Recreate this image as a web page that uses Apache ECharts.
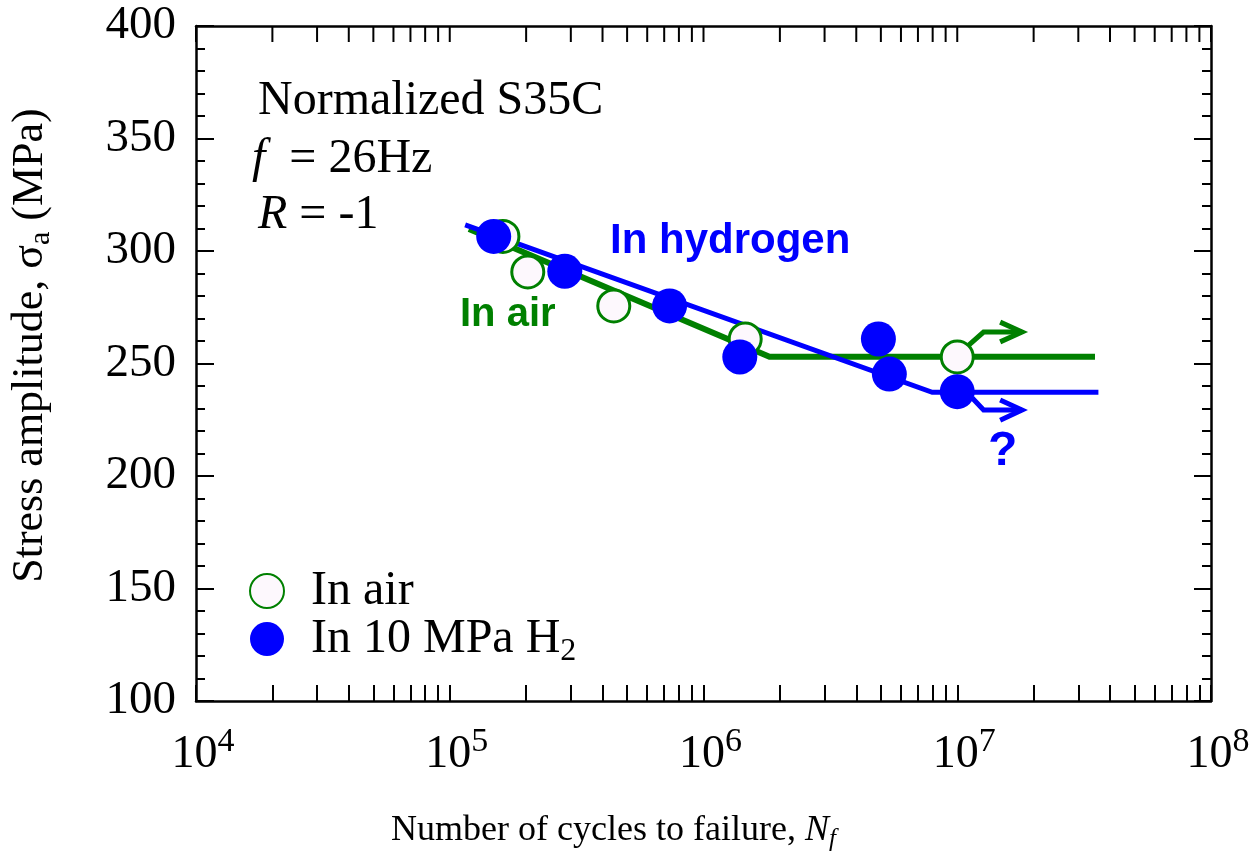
<!DOCTYPE html>
<html>
<head>
<meta charset="utf-8">
<script src="https://cdn.jsdelivr.net/npm/echarts@6/dist/echarts.min.js"></script>
<style>
html, body { margin: 0; padding: 0; background: #fff; }
#main { width: 1258px; height: 861px; }
</style>
</head>
<body>
<div id="main"></div>
<script>
// S-N data
const airCycles = [1.62e5, 2.03e5, 4.43e5, 1.46e6, 1.0e7];
const airStress = [306.5, 290.7, 275.6, 260.9, 252.9];
const h2Cycles = [1.49e5, 2.84e5, 7.35e5, 1.39e6, 4.89e6, 5.4e6, 1.0e7];
const h2Stress = [306.5, 291, 275.6, 252.9, 260.9, 245.3, 237.5];

// fitted S-N curves (knee + runout level)
const airFitCycles = [1.19e5, 1.82e6, 3.49e7];
const airFitStress = [309.8, 253, 253];
const h2FitCycles = [1.15e5, 7.97e6, 3.6e7];
const h2FitStress = [311.6, 237.2, 237.2];

// runout arrows
const airArrowCycles = [1.11e7, 1.27e7, 1.8e7];
const airArrowStress = [258.2, 264, 264];
const airHeadCycles = [1.476e7, 1.8e7, 1.476e7];
const airHeadStress = [268.4, 264, 259.6];
const h2ArrowCycles = [1.146e7, 1.27e7, 1.8e7];
const h2ArrowStress = [234.7, 229.3, 229.3];
const h2HeadCycles = [1.476e7, 1.8e7, 1.476e7];
const h2HeadStress = [233.8, 229.3, 224.8];

const green = '#008000';
const blue = '#0000ff';
const serif = "'Liberation Serif', 'Times New Roman', serif";
const sans = "'Liberation Sans', Arial, sans-serif";

const zip = (xs, ys) => xs.map((x, i) => [x, ys[i]]);

// log tick positions 1..9 x 10^n
let logTickValues = [];
for (let e = 4; e < 8; e++) {
	for (let k = 1; k < 10; k++) logTickValues.push(k * Math.pow(10, e));
}
logTickValues.push(1e8);
const logTicks = logTickValues.map((v) => Math.log10(v));

let chart = echarts.init(document.getElementById('main'));

const lineSeries = (data, color, width, z) => ({
	type: 'line',
	data: data,
	showSymbol: false,
	symbol: 'none',
	silent: true,
	z: z,
	lineStyle: { color: color, width: width, cap: 'butt', join: 'miter' }
});

let option = {
	backgroundColor: '#fff',
	animation: false,
	textStyle: { fontFamily: serif },
	grid: { left: 195, right: 47, top: 26, bottom: 160, containLabel: false },
	legend: {
		orient: 'vertical',
		left: 244,
		top: 562,
		itemWidth: 34,
		itemHeight: 34,
		itemGap: 0,
		data: ['In air', 'In 10 MPa H2'],
		formatter: (name) => name == 'In 10 MPa H2' ? 'In 10 MPa H{sub|2}' : name,
		textStyle: {
			fontFamily: serif,
			fontSize: 48,
			color: '#000',
			padding: [0, 0, 0, 22],
			rich: {
				sub: { fontFamily: serif, fontSize: 32, padding: [26, 0, 0, 0] }
			}
		}
	},
	xAxis: [{
		type: 'log',
		logBase: 10,
		min: 1e4,
		max: 1e8,
		position: 'bottom',
		axisLine: { show: true, onZero: false, lineStyle: { color: '#000', width: 2.5 } },
		axisTick: { show: false },
		splitLine: { show: false },
		minorTick: { show: false },
		axisLabel: {
			margin: 24,
			color: '#000',
			formatter: (v) => '10{sup|' + Math.round(Math.log10(v)) + '}',
			rich: {
				sup: { fontFamily: serif, fontSize: 34, padding: [0, 0, 26, 0] }
			},
			padding: [0, 0, 0, 14],
			fontSize: 46,
			fontFamily: serif
		},
		name: 'Number of cycles to failure, {it|N}{sub|f}',
		nameLocation: 'middle',
		nameGap: 108,
		nameTextStyle: {
			fontFamily: serif,
			fontSize: 36,
			color: '#000',
			padding: [0, 180, 0, 0],
			rich: {
				it: { fontFamily: serif, fontSize: 36, fontStyle: 'italic' },
				sub: { fontFamily: serif, fontSize: 25, fontStyle: 'italic', padding: [18, 0, 0, 0] }
			}
		}
	}, {
		// top frame line
		type: 'value',
		position: 'top',
		min: 4,
		max: 8,
		axisLine: { show: true, onZero: false, lineStyle: { color: '#000', width: 2.5 } },
		axisTick: { show: false },
		axisLabel: { show: false },
		splitLine: { show: false }
	}, {
		// bottom log ticks
		type: 'value',
		position: 'bottom',
		min: 4,
		max: 8,
		axisLine: { show: false },
		axisLabel: { show: false },
		splitLine: { show: false },
		axisTick: {
			show: true,
			inside: true,
			length: 16,
			customValues: logTicks,
			lineStyle: { color: '#000', width: 2 }
		}
	}],
	yAxis: [{
		type: 'value',
		min: 100,
		max: 400,
		interval: 50,
		position: 'left',
		axisLine: { show: true, onZero: false, lineStyle: { color: '#000', width: 2.5 } },
		axisTick: { show: true, inside: true, length: 18, lineStyle: { color: '#000', width: 2 } },
		minorTick: { show: true, splitNumber: 5, length: 9, lineStyle: { color: '#000', width: 2 } },
		splitLine: { show: false },
		axisLabel: { margin: 20, color: '#000', fontFamily: serif, fontSize: 47 },
		name: 'Stress amplitude, σ{sub|a} (MPa)',
		nameLocation: 'middle',
		nameGap: 140,
		nameTextStyle: {
			fontFamily: serif,
			fontSize: 44,
			color: '#000',
			padding: [0, 0, 0, 36],
			rich: {
				sub: { fontFamily: serif, fontSize: 30, padding: [22, 0, 0, 0] }
			}
		}
	}, {
		type: 'value',
		min: 100,
		max: 400,
		interval: 50,
		position: 'right',
		axisLine: { show: true, onZero: false, lineStyle: { color: '#000', width: 2.5 } },
		axisTick: { show: true, inside: true, length: 17, lineStyle: { color: '#000', width: 2 } },
		minorTick: { show: true, splitNumber: 5, length: 9, lineStyle: { color: '#000', width: 2 } },
		splitLine: { show: false },
		axisLabel: { show: false }
	}],
	graphic: [
		{
			type: 'text', left: 258, top: 77,
			style: { text: 'Normalized S35C', font: '48px ' + serif, fill: '#000' }
		},
		{
			type: 'text', left: 252, top: 135,
			style: {
				text: '{it|f}  = 26Hz', font: '48px ' + serif, fill: '#000',
				rich: { it: { fontStyle: 'italic', fontSize: 48, fontFamily: serif } }
			}
		},
		{
			type: 'text', left: 258, top: 191,
			style: {
				text: '{it|R} = -1', font: '48px ' + serif, fill: '#000',
				rich: { it: { fontStyle: 'italic', fontSize: 48, fontFamily: serif } }
			}
		},
		{
			type: 'text', left: 610, top: 220,
			style: { text: 'In hydrogen', font: 'bold 42px ' + sans, fill: blue }
		},
		{
			type: 'text', left: 460, top: 295,
			style: { text: 'In air', font: 'bold 40px ' + sans, fill: green }
		},
		{
			type: 'text', left: 988, top: 428,
			style: { text: '?', font: 'bold 48px ' + sans, fill: blue }
		}
	],
	series: [
		// top-edge log ticks, placed through the x scale at the top of the y range
		{
			type: 'custom',
			silent: true,
			clip: false,
			z: 1,
			data: logTickValues.map((v) => [v, 400]),
			renderItem: (params, api) => {
				const p = api.coord([api.value(0), api.value(1)]);
				return {
					type: 'line',
					shape: { x1: p[0], y1: p[1], x2: p[0], y2: p[1] + 16 },
					style: { stroke: '#000', lineWidth: 2 }
				};
			}
		},
		lineSeries(zip(airFitCycles, airFitStress), green, 6, 2),
		lineSeries(zip(h2FitCycles, h2FitStress), blue, 5, 3),
		lineSeries(zip(airArrowCycles, airArrowStress), green, 5, 2),
		lineSeries(zip(airHeadCycles, airHeadStress), green, 5, 2),
		lineSeries(zip(h2ArrowCycles, h2ArrowStress), blue, 5, 3),
		lineSeries(zip(h2HeadCycles, h2HeadStress), blue, 5, 3),
		{
			name: 'In air',
			type: 'scatter',
			data: zip(airCycles, airStress),
			symbol: 'circle',
			symbolSize: 32,
			z: 4,
			itemStyle: { color: '#fdf8fd', borderColor: green, borderWidth: 3, opacity: 1 }
		},
		{
			name: 'In 10 MPa H2',
			type: 'scatter',
			data: zip(h2Cycles, h2Stress),
			symbol: 'circle',
			symbolSize: 35,
			z: 5,
			itemStyle: { color: blue, opacity: 1 }
		}
	].map((s) => Object.assign({ xAxisIndex: 0, yAxisIndex: 0 }, s))
};
chart.setOption(option);
</script>
</body>
</html>
